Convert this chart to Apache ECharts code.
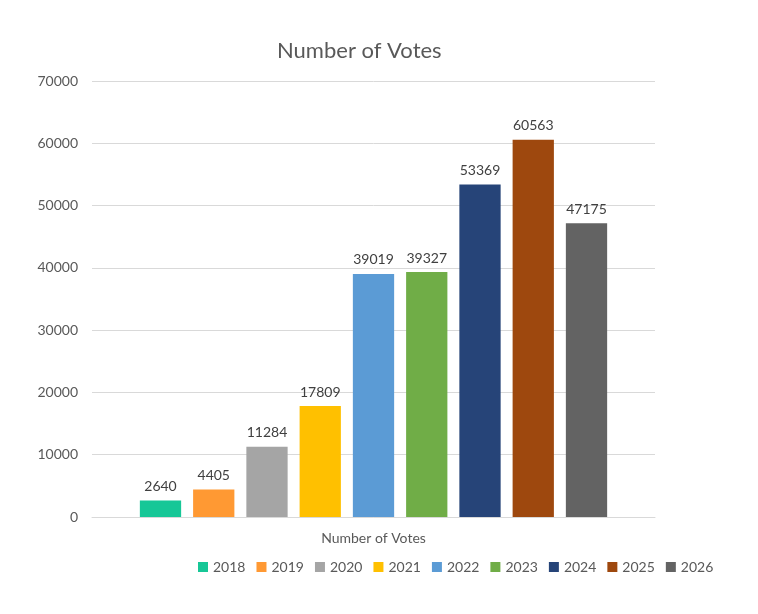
<!DOCTYPE html>
<html><head><meta charset="utf-8">
<script src="https://cdn.jsdelivr.net/npm/echarts@6/dist/echarts.min.js"></script>
<style>html,body{margin:0;padding:0;background:#fff}#c{width:758px;height:614px}</style>
</head><body><div id="c"></div>
<script>
const categories = ['Number of Votes'];
const years = ['2018','2019','2020','2021','2022','2023','2024','2025','2026'];
const votes = [2640, 4405, 11284, 17809, 39019, 39327, 53369, 60563, 47175];
const colors = ['#17C797','#FF9933','#A5A5A5','#FFC000','#5B9BD5','#70AD47','#264478','#9E480E','#636363'];
const yTicks = {min: 0, max: 70000, interval: 10000};

const font = 'Lato, "Open Sans", sans-serif';
const chart = echarts.init(document.getElementById('c'));
chart.setOption({
  animation: false,
  title: {text: 'Number of Votes', left: 272, top: 35,
    textStyle: {fontFamily: font, fontSize: 22, fontWeight: 'normal', color: '#595959'}},
  grid: {left: 92, right: 103, top: 81, bottom: 97},
  legend: {left: 193, top: 555, itemWidth: 10, itemHeight: 10, itemGap: 11,
    icon: 'rect', textStyle: {fontFamily: font, fontSize: 14, color: '#595959'},
    data: years},
  xAxis: {type: 'category', data: categories,
    axisLine: {lineStyle: {color: '#D9D9D9'}}, axisTick: {show: false},
    axisLabel: {fontFamily: font, fontSize: 14, color: '#595959', margin: 14}},
  yAxis: {type: 'value', min: yTicks.min, max: yTicks.max, interval: yTicks.interval,
    axisLine: {show: false}, axisTick: {show: false},
    splitLine: {lineStyle: {color: '#D9D9D9'}},
    axisLabel: {fontFamily: font, fontSize: 14, color: '#595959', margin: 14,
      formatter: v => String(v)}},
  series: years.map((y, i) => ({
    name: y, type: 'bar', data: [votes[i]],
    barGap: '29%', barCategoryGap: '17%',
    itemStyle: {color: colors[i]},
    label: {show: true, position: 'top', distance: 7, fontFamily: font, fontSize: 14, color: '#404040'}
  }))
});
</script></body></html>
